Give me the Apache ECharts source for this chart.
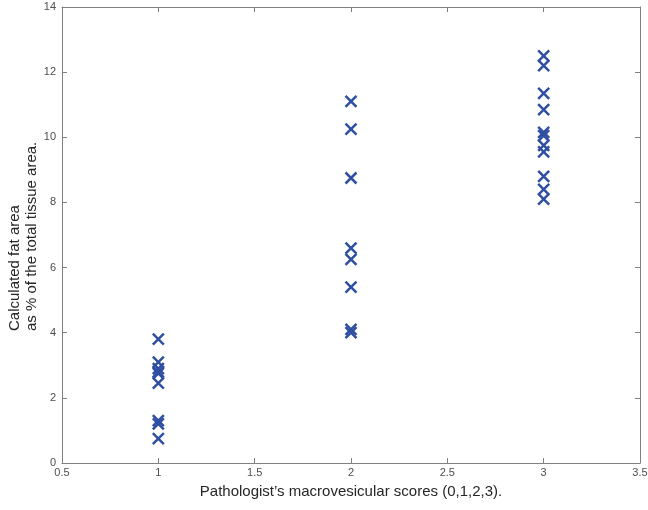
<!DOCTYPE html>
<html><head><meta charset="utf-8">
<script src="https://cdn.jsdelivr.net/npm/echarts@6/dist/echarts.min.js"></script>
<style>html,body{margin:0;padding:0;background:#fff}#c{width:648px;height:510px}</style>
</head><body><div id="c"></div>
<script>
const scores = [1, 2, 3];
const score1 = [3.8, 3.1, 2.9, 2.8, 2.75, 2.45, 1.3, 1.2, 0.75];
const score2 = [11.1, 10.25, 8.75, 6.6, 6.25, 5.4, 4.1, 4.0];
const score3 = [12.5, 12.2, 11.35, 10.85, 10.15, 10.05, 9.75, 9.55, 8.8, 8.4, 8.1];
const xTicks = [0.5, 1, 1.5, 2, 2.5, 3, 3.5];
const yTicks = [0, 2, 4, 6, 8, 10, 12, 14];
const xTitle = "Pathologist\u2019s macrovesicular scores (0,1,2,3).";
const yTitle = "Calculated fat area\nas % of the total tissue area.";

const groups = [score1, score2, score3];
const data = [];
groups.forEach((g, i) => g.forEach(v => data.push([scores[i], v])));

const axColor = '#808080';
const lblColor = '#4d4d4d';
const font = 'Liberation Sans, Arial, sans-serif';
const chart = echarts.init(document.getElementById('c'), null, {renderer: 'canvas'});
const baseX = {
  type: 'value', min: xTicks[0], max: xTicks[xTicks.length-1], interval: 0.5,
  axisLine: {onZero: false, lineStyle: {color: axColor, width: 1}},
  axisTick: {inside: true, length: 5, lineStyle: {color: axColor}},
  splitLine: {show: false}
};
const baseY = {
  type: 'value', min: yTicks[0], max: yTicks[yTicks.length-1], interval: 2,
  axisLine: {onZero: false, lineStyle: {color: axColor, width: 1}},
  axisTick: {inside: true, length: 5, lineStyle: {color: axColor}},
  splitLine: {show: false}
};
chart.setOption({
  animation: false,
  backgroundColor: '#fff',
  grid: {left: 62, right: 8, top: 7, bottom: 47, containLabel: false, outerBoundsMode: 'none'},
  xAxis: [
    Object.assign({}, baseX, {
      position: 'bottom',
      axisLabel: {color: lblColor, fontSize: 11, fontFamily: font, margin: 4},
      name: xTitle, nameLocation: 'middle', nameGap: 21,
      nameTextStyle: {color: '#262626', fontSize: 15, fontFamily: font}
    }),
    Object.assign({}, baseX, {position: 'top', axisLabel: {show: false}})
  ],
  yAxis: [
    Object.assign({}, baseY, {
      position: 'left',
      axisLabel: {color: lblColor, fontSize: 11, fontFamily: font, margin: 6}
    }),
    Object.assign({}, baseY, {position: 'right', axisLabel: {show: false}})
  ],
  graphic: [{
    type: 'text',
    x: 23.5, y: 331,
    rotation: Math.PI / 2,
    style: {
      text: yTitle,
      font: '15px Liberation Sans, Arial, sans-serif',
      fill: '#262626',
      align: 'left',
      verticalAlign: 'middle',
      lineHeight: 17
    }
  }],
  series: [{
    type: 'scatter',
    data: data,
    symbol: 'path://M0,0L10,10M10,0L0,10',
    symbolSize: 11,
    itemStyle: {color: 'rgba(0,0,0,0)', borderColor: '#2f4fa3', borderWidth: 2.5, opacity: 1}
  }]
});
</script></body></html>
